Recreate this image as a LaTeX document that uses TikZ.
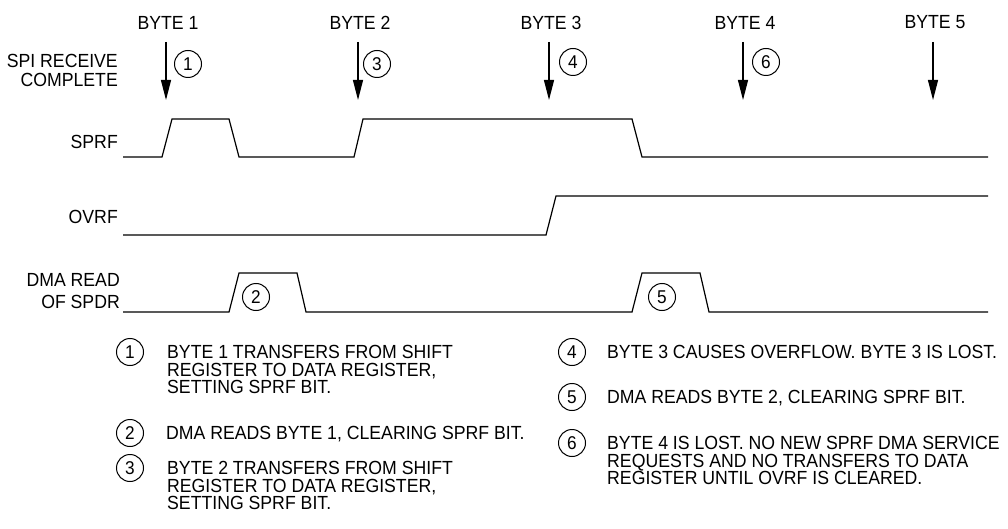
\documentclass[tikz,border=0pt]{standalone}
\usepackage{fontspec}
\newfontfamily\nar[FakeStretch=0.93]{Liberation Sans}
\usetikzlibrary{arrows.meta}
\begin{document}
\begin{tikzpicture}[x=1pt,y=-1pt,
  lbl/.style={font=\nar\fontsize{19}{19}\selectfont, inner sep=0pt},
  sig/.style={line width=1.2pt, line join=miter},
  num/.style={circle, draw, line width=1pt, inner sep=0pt, minimum size=27pt, font=\nar\fontsize{18.5}{18.5}\selectfont},
  evt/.style={-{Triangle[length=20pt,width=10pt]}, line width=1.2pt},
  leg/.style={font=\nar\fontsize{19}{17.5}\selectfont, inner sep=0pt, align=left, anchor=north west}]
\useasboundingbox (0,0) rectangle (1008,529);

% byte labels and receive-complete arrows
\foreach \i/\x in {1/166,2/358,3/549,4/743,5/933} {
  \node[lbl] (b\i) at (\x+2,22.5) {BYTE \i};
  \coordinate (t\i) at (\x,42);
  \coordinate (h\i) at (\x,100);
  \draw[evt] (t\i) -- (h\i);
}

% circled numbers near arrows
\node[num] (c1) at (188,64) {1};
\node[num] (c3) at (377,64) {3};
\node[num] (c4) at (573,62) {4};
\node[num] (c6) at (766,62) {6};

% signal names
\node[lbl, anchor=east, align=right] (spi) at (118,70.5) {SPI RECEIVE\\COMPLETE};
\node[lbl, anchor=east] (sprf) at (118,142) {SPRF};
\node[lbl, anchor=east] (ovrf) at (118,217) {OVRF};
\node[lbl, anchor=east, align=right, font=\nar\fontsize{19}{22}\selectfont] (dma) at (120,291) {DMA READ\\OF SPDR};

% waveforms
\draw[sig] (123,157) -- (162,157) -- (172,119) -- (229,119) -- (239,157) -- (354,157) -- (363,119) -- (632,119) -- (642,157) -- (988,157);
\draw[sig] (123,235) -- (546,235) -- (556,196) -- (988,196);
\draw[sig] (123,312) -- (229,312) -- (239,273) -- (297,273) -- (306,312) -- (632,312) -- (642,273) -- (700,273) -- (709,312) -- (988,312);

\node[num] (c2) at (256,297) {2};
\node[num] (c5) at (662,297) {5};

% legend
\node[num] (l1) at (130,352) {1};
\node[leg] (t1) at (167,345.2) {BYTE 1 TRANSFERS FROM SHIFT\\REGISTER TO DATA REGISTER,\\SETTING SPRF BIT.};
\node[num] (l2) at (130,433) {2};
\node[leg] (t2) at (166,426.2) {DMA READS BYTE 1, CLEARING SPRF BIT.};
\node[num] (l3) at (130,468) {3};
\node[leg] (t3) at (167,461.2) {BYTE 2 TRANSFERS FROM SHIFT\\REGISTER TO DATA REGISTER,\\SETTING SPRF BIT.};

\node[num] (l4) at (572,352) {4};
\node[leg] (t4) at (607,345.2) {BYTE 3 CAUSES OVERFLOW. BYTE 3 IS LOST.};
\node[num] (l5) at (572,397) {5};
\node[leg] (t5) at (607,390.2) {DMA READS BYTE 2, CLEARING SPRF BIT.};
\node[num] (l6) at (572,443) {6};
\node[leg] (t6) at (607,436.2) {BYTE 4 IS LOST. NO NEW SPRF DMA SERVICE\\REQUESTS AND NO TRANSFERS TO DATA\\REGISTER UNTIL OVRF IS CLEARED.};
\end{tikzpicture}
\end{document}
